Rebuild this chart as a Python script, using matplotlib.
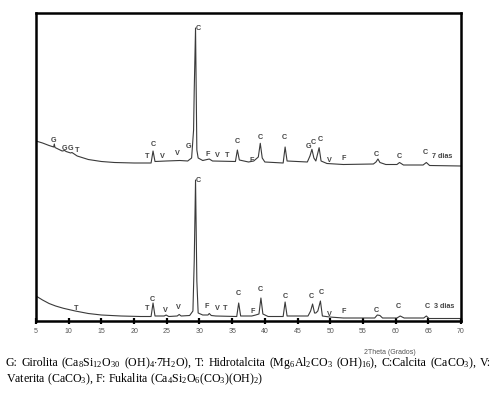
import numpy as np
import matplotlib
matplotlib.use("Agg")
from matplotlib import pyplot as plt

plt.rcParams['font.family'] = ['Liberation Sans', 'DejaVu Sans']
plt.rcParams['mathtext.fontset'] = 'custom'
plt.rcParams['mathtext.rm'] = 'Liberation Serif'
plt.rcParams['mathtext.it'] = 'Liberation Serif:italic'

# --- 3 dias pattern (2theta, intensity a.u.) ---
tt_3 = [5.0, 6.0, 7.0, 8.0, 9.2, 11.0, 13.0, 15.0, 18.0, 21.0, 22.6, 22.9, 23.2,
        24.6, 24.9, 25.3, 26.6, 26.9, 27.2, 28.5, 29.0, 29.2, 29.4, 29.6, 29.8,
        30.5, 31.3, 31.5, 31.8, 32.5, 35.7, 36.0, 36.3, 38.0, 38.6, 39.1, 39.4,
        39.7, 40.5, 42.8, 43.1, 43.4, 46.6, 47.0, 47.3, 47.6, 47.8, 48.1, 48.5,
        48.8, 49.9, 52.0, 56.8, 57.2, 57.6, 58.0, 60.2, 60.7, 61.3, 63.0, 64.3,
        64.7, 65.1, 70.0]
int_3 = [25, 21, 17.5, 15, 12.7, 10, 7.5, 6, 5, 4.5, 4.5, 18, 5,
         5, 6, 4.5, 5, 6.5, 5, 5.5, 10, 60, 141, 40, 8,
         6, 6, 7.5, 5.5, 5, 4.5, 18, 5, 5, 6, 7, 23,
         7, 4.5, 4.5, 19, 5, 5, 10, 17, 8, 8, 10, 20,
         5, 4, 3, 3, 6, 5.5, 3, 3, 5, 3, 3, 3,
         5, 2.5, 2.5]

# --- 7 dias pattern (2theta, intensity a.u. above offset) ---
tt_7 = [5.0, 6.0, 7.0, 7.7, 7.8, 7.9, 9.0, 9.4, 9.6, 10.3, 10.5, 11.3, 13.0, 15.0,
        17.0, 20.0, 22.6, 22.9, 23.2, 24.9, 27.0, 28.2, 28.8, 29.1, 29.2, 29.4,
        29.6, 29.8, 30.5, 31.5, 32.0, 35.5, 35.8, 36.1, 37.5, 38.3, 39.0, 39.3,
        39.6, 40.0, 42.8, 43.1, 43.4, 46.5, 46.9, 47.2, 47.5, 47.8, 48.3, 48.6,
        49.5, 52.0, 56.6, 57.0, 57.3, 57.6, 58.5, 60.2, 60.6, 61.2, 64.2, 64.7,
        65.2, 70.0]
int_7 = [25, 23, 20.5, 19, 22, 18.5, 15, 15.5, 14.5, 13, 13.5, 10, 6.5, 4.5,
         3.5, 3, 3, 15, 4.5, 5, 5.5, 5, 8, 36, 76, 138,
         16, 8, 5.5, 7, 5, 4.5, 16, 6, 4, 5, 9, 22.7,
         8, 4, 3, 19, 5, 4, 10, 16.7, 8, 5, 18.3, 5,
         2.5, 1.5, 2, 4, 7, 3.5, 1.5, 1.5, 3.5, 1, 1, 3.5,
         0.5, 0]

# phase labels: letter, 2theta, height (a.u.)
lab_7 = ['G', 'G', 'G', 'T', 'T', 'C', 'V', 'V', 'G', 'C', 'F', 'V', 'T', 'C',
         'F', 'C', 'C', 'G', 'C', 'C', 'V', 'F', 'C', 'C', 'C']
lab_7_tt = [7.76, 9.33, 10.31, 11.23, 22.04, 22.87, 24.3, 26.64, 28.38, 29.76,
            31.29, 32.67, 34.2, 35.83, 38.03, 39.3, 42.98, 46.7, 47.37, 48.49,
            49.92, 52.06, 57.07, 60.64, 64.57]
lab_7_h = [26, 17.3, 17.3, 15.3, 10, 21, 9.5, 12.7, 20, 137.3,
           12, 10.3, 10.3, 24.3, 6, 28.7, 28.7, 19.3, 23.3, 26.7,
           5.3, 7.7, 11.7, 9.3, 13.3]

lab_3 = ['T', 'T', 'C', 'V', 'V', 'C', 'F', 'V', 'T', 'C', 'F', 'C', 'C', 'C',
         'C', 'V', 'F', 'C', 'C', 'C']
lab_3_tt = [11.08, 22.04, 22.81, 24.75, 26.79, 29.85, 31.14, 32.67, 33.94, 35.98,
            38.18, 39.3, 43.13, 47.07, 48.6, 49.92, 52.06, 57.07, 60.48, 64.83]
lab_3_h = [12.7, 12.7, 21.7, 11, 13.7, 141, 15, 12.7, 12.7, 27.7,
           9.3, 31.7, 25, 24.3, 28.3, 6, 9.3, 11, 14.3, 15]

ticks = [5, 10, 15, 20, 25, 30, 35, 40, 45, 50, 55, 60, 65, 70]
offset_7 = 155

fig = plt.figure(figsize=(4.97, 3.93), dpi=100)
ax = fig.add_axes([36/497, 1-321/393, 425/497, 308/393])

ax.plot(tt_3, int_3, color='#3a3a3a', lw=0.8)
ax.plot(tt_7, np.array(int_7) + offset_7, color='#3a3a3a', lw=0.8)

lbl = dict(ha='center', va='center', fontsize=5.2, fontweight='bold', color='#444444')
for s, x, h in zip(lab_7, lab_7_tt, lab_7_h):
    ax.text(x, h + offset_7, s, **lbl)
for s, x, h in zip(lab_3, lab_3_tt, lab_3_h):
    ax.text(x, h, s, **lbl)
ax.text(67.1, 9.3 + offset_7, '7 dias', **lbl)
ax.text(67.4, 15, '3 dias', **lbl)

ax.set_xlim(5, 70)
ax.set_ylim(0, 308)
ax.set_xticks(ticks)
ax.set_xticklabels([str(t) for t in ticks], fontsize=5, color='#555555')
ax.set_yticks([])
ax.tick_params(axis='x', direction='inout', length=5, width=1.6, pad=2.5)
for side in ['left', 'right', 'top', 'bottom']:
    ax.spines[side].set_linewidth(1.8)

fig.text(390/497, 1-352.7/393, '2Theta (Grados)', ha='center', va='center',
         fontsize=5, color='#555555')

# caption, first line justified to the right edge
words1 = [r'G:', r'Girolita', r'(Ca$_8$Si$_{12}$O$_{30}$', r'(OH)$_4$$\cdot$7H$_2$O),',
          r'T:', r'Hidrotalcita', r'(Mg$_6$Al$_2$CO$_3$', r'(OH)$_{16}$),',
          r'C:Calcita', r'(CaCO$_3$),', r'V:']
cap2 = r'Vaterita (CaCO$_3$), F: Fukalita (Ca$_4$Si$_2$O$_6$(CO$_3$)(OH)$_2$)'
cap_kw = dict(ha='left', va='center', fontsize=8.6, family='Liberation Serif')

renderer = fig.canvas.get_renderer()
items = [fig.text(0, 1-363/393, w, **cap_kw) for w in words1]
widths = [t.get_window_extent(renderer).width for t in items]
x0, x1 = 6, 491
gap = (x1 - x0 - sum(widths)) / (len(items) - 1)
x = x0
for t, w in zip(items, widths):
    t.set_x(x / 497)
    x += w + gap
fig.text(6/497, 1-379/393, cap2, **cap_kw)

fig.savefig('out.png', dpi=100)
